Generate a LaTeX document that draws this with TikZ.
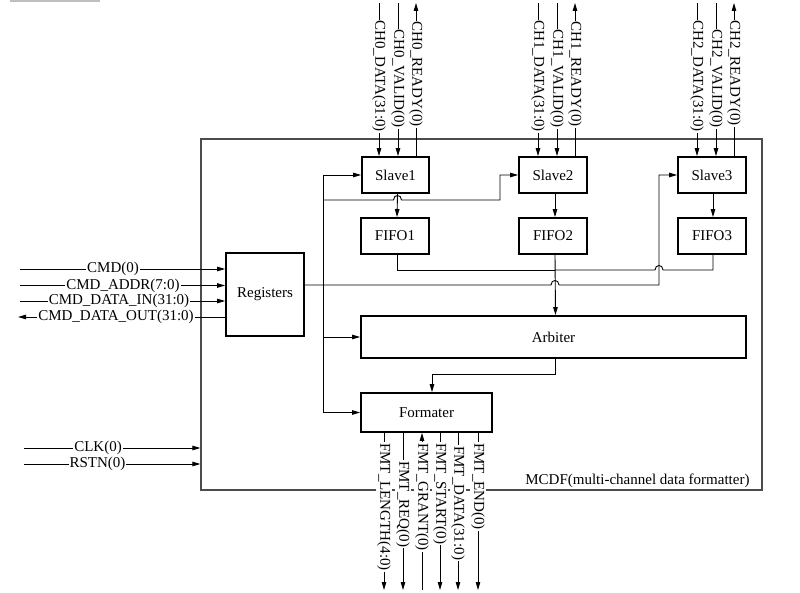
\documentclass[tikz,border=0pt]{standalone}
\usepackage{fontspec}
\setmainfont{Liberation Serif}
\usetikzlibrary{arrows.meta}
\begin{document}
\begin{tikzpicture}[x=1pt,y=-1pt,
  wire/.style={line width=0.9pt, draw=black},
  arr/.style={wire, -{Triangle[length=8pt,width=4.5pt]}},
  rarr/.style={wire, {Triangle[length=8pt,width=4.5pt]}-},
  txt/.style={font=\fontsize{15}{18}\selectfont},
  blk/.style={txt, draw, line width=1.8pt, inner sep=0pt},
  lbl/.style={txt, fill=white, inner sep=1pt},
  vlbl/.style={lbl, rotate=-90},
]
\useasboundingbox (0,0) rectangle (800,593);
\coordinate (g1) at (10,1);
\coordinate (g2) at (100,1);
\draw[gray!50, line width=1.2pt] (g1) -- (g2);

% outer box
\node[draw=black!70, line width=1.3pt, minimum width=561pt, minimum height=351pt, inner sep=0pt] (mcdf) at (481.5,314.5) {};
\node[txt, anchor=east] (mcdflbl) at (753,481) {MCDF(multi-channel data formatter)};

% blocks
\node[blk, minimum width=67pt, minimum height=36pt] (s1) at (395.5,175) {Slave1};
\node[blk, minimum width=68pt, minimum height=36pt] (s2) at (553,175) {Slave2};
\node[blk, minimum width=68pt, minimum height=36pt] (s3) at (712,175) {Slave3};
\node[blk, minimum width=68pt, minimum height=36pt] (f1) at (395,236) {FIFO1};
\node[blk, minimum width=68pt, minimum height=36pt] (f2) at (553,236) {FIFO2};
\node[blk, minimum width=68pt, minimum height=36pt] (f3) at (712,236) {FIFO3};
\node[blk, minimum width=78pt, minimum height=83pt] (reg) at (265,294.5) {Registers};
\node[blk, minimum width=385pt, minimum height=42pt] (arb) at (553.5,337) {Arbiter};
\node[blk, minimum width=131pt, minimum height=39pt] (fmt) at (426.5,412.5) {Formater};

% top channel signals
\coordinate (t0d) at (379,3);  \coordinate (t0v) at (398,3);  \coordinate (t0r) at (416,3);
\coordinate (t1d) at (538,3);  \coordinate (t1v) at (557,3);  \coordinate (t1r) at (575,3);
\coordinate (t2d) at (697,3);  \coordinate (t2v) at (716,3);  \coordinate (t2r) at (734,3);
\draw[arr] (t0d) -- (t0d |- s1.north);
\draw[arr] (t0v) -- (t0v |- s1.north);
\draw[rarr] (t0r) -- (t0r |- s1.north);
\draw[arr] (t1d) -- (t1d |- s2.north);
\draw[arr] (t1v) -- (t1v |- s2.north);
\draw[rarr] (t1r) -- (t1r |- s2.north);
\draw[arr] (t2d) -- (t2d |- s3.north);
\draw[arr] (t2v) -- (t2v |- s3.north);
\draw[rarr] (t2r) -- (t2r |- s3.north);
\node[vlbl, anchor=east] (l0d) at (379,133) {CH0\_DATA(31:0)};
\node[vlbl, anchor=east] (l0v) at (398,129) {CH0\_VALID(0)};
\node[vlbl, anchor=east] (l0r) at (416,128) {CH0\_READY(0)};
\node[vlbl, anchor=east] (l1d) at (538,133) {CH1\_DATA(31:0)};
\node[vlbl, anchor=east] (l1v) at (557,129) {CH1\_VALID(0)};
\node[vlbl, anchor=east] (l1r) at (575,128) {CH1\_READY(0)};
\node[vlbl, anchor=east] (l2d) at (697,133) {CH2\_DATA(31:0)};
\node[vlbl, anchor=east] (l2v) at (716,129) {CH2\_VALID(0)};
\node[vlbl, anchor=east] (l2r) at (734,127) {CH2\_READY(0)};

% left command signals
\coordinate (c1) at (20,269);
\coordinate (c2) at (20,285.5);
\coordinate (c3) at (20,301);
\coordinate (c4) at (18,317);
\draw[arr] (c1) -- (c1 -| reg.west);
\draw[arr] (c2) -- (c2 -| reg.west);
\draw[arr] (c3) -- (c3 -| reg.west);
\draw[rarr] (c4) -- (c4 -| reg.west);
\node[lbl] (c1t) at (113,269) {CMD(0)};
\node[lbl] (c2t) at (123,285.5) {CMD\_ADDR(7:0)};
\node[lbl] (c3t) at (119,301) {CMD\_DATA\_IN(31:0)};
\node[lbl] (c4t) at (116,317) {CMD\_DATA\_OUT(31:0)};

% clock / reset
\coordinate (k1) at (24,448);
\coordinate (k2) at (24,464);
\draw[arr] (k1) -- (k1 -| mcdf.west);
\draw[arr] (k2) -- (k2 -| mcdf.west);
\node[lbl] (k1t) at (98,448) {CLK(0)};
\node[lbl] (k2t) at (97.5,464) {RSTN(0)};

% bottom formatter signals
\coordinate (b1) at (384,590);
\coordinate (b2) at (403,590);
\coordinate (b3) at (422,590);
\coordinate (b4) at (440,590);
\coordinate (b5) at (458,590);
\coordinate (b6) at (478,590);
\draw[arr] (b1 |- fmt.south) -- (b1);
\draw[arr] (b2 |- fmt.south) -- (b2);
\draw[arr] (b3) -- (b3 |- fmt.south);
\draw[arr] (b4 |- fmt.south) -- (b4);
\draw[arr] (b5 |- fmt.south) -- (b5);
\draw[arr] (b6 |- fmt.south) -- (b6);
\node[vlbl, anchor=west] (b1t) at (384,442) {FMT\_LENGTH(4:0)};
\node[vlbl, anchor=west] (b2t) at (403,460) {FMT\_REQ(0)};
\node[vlbl, anchor=west] (b3t) at (422,442) {FMT\_GRANT(0)};
\node[vlbl, anchor=west] (b4t) at (440,442) {FMT\_START(0)};
\node[vlbl, anchor=west] (b5t) at (458,445) {FMT\_DATA(31:0)};
\node[vlbl, anchor=west] (b6t) at (478,442) {FMT\_END(0)};

% slave -> fifo
\draw[arr] ([xshift=2pt]s1.south) -- ([xshift=2pt]f1.north);
\draw[arr] ([xshift=2pt]s2.south) -- ([xshift=2pt]f2.north);
\draw[arr] ([xshift=1pt]s3.south) -- ([xshift=1pt]f3.north);

% left bus
\coordinate (bt) at (323,175);
\coordinate (bb) at (323,412.5);
\coordinate (bm) at (323,200);
\draw[wire] (bt) -- (bb);
\draw[arr] (bt) -- (s1.west);
\draw[arr] (arb.west -| bt) -- (arb.west);
\draw[arr] (bb) -- (fmt.west);
\draw[arr] (bm) -- (393.5,200) .. controls (393.5,194) and (401.5,194) .. (401.5,200) -- (500,200) -- (500,175) -- (s2.west);

% registers -> slave3
\draw[arr] ([yshift=9.5pt]reg.east) -- (551,285) .. controls (551,279) and (559,279) .. (559,285) -- (659,285) -- (659,175) -- (s3.west);

% fifo merge
\draw[wire] ([xshift=2pt]f1.south) -- (397,270) -- (555,270);
\draw[wire] ([xshift=1pt]f3.south) -- (713,270) -- (663,270) .. controls (663,264) and (655,264) .. (655,270) -- (555,270);
\draw[arr] ([xshift=2pt]f2.south) -- ([xshift=2pt]arb.north);

% arbiter -> formater
\coordinate (af) at (432,374);
\draw[arr] ([xshift=2pt]arb.south) |- (af) -- (af |- fmt.north);
\end{tikzpicture}
\end{document}
